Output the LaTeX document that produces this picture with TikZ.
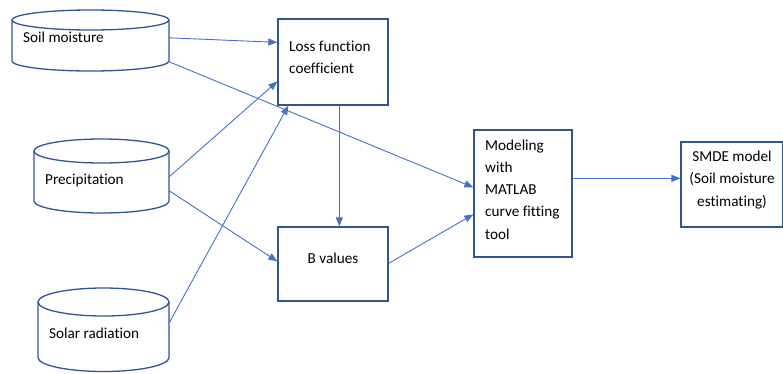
\documentclass[tikz,border=0pt]{standalone}
\usepackage{fontspec}
\setmainfont[Ligatures=NoCommon]{Carlito}
\usetikzlibrary{arrows.meta,calc}
\definecolor{linec}{HTML}{4472C4}
\definecolor{boxc}{HTML}{2F5597}
\tikzset{
  box/.style={draw=boxc,line width=1.3pt,inner sep=0pt},
  lbl/.style={font=\fontsize{15.2}{22.2}\selectfont,inner sep=0pt,text=black},
  conn/.style={draw=linec,line width=0.9pt,-{Triangle[length=9pt,width=7pt]}},
  cyl/.style={draw=boxc,line width=1.3pt}
}
\newcommand{\mycyl}[5]{% left right top bottom ry
  \draw[cyl] ({(#1+#2)/2},{#3+#5}) ellipse [x radius={(#2-#1)/2*1pt}, y radius={#5*1pt}];
  \draw[cyl] (#1,{#3+#5}) -- (#1,{#4-#5}) arc [start angle=180, end angle=360, x radius={(#2-#1)/2*1pt}, y radius={#5*1pt}] -- (#2,{#3+#5});
}
\begin{document}
\begin{tikzpicture}[x=1pt,y=-1pt]
\useasboundingbox (0,0) rectangle (783,373);
% cylinders
\mycyl{12}{169}{10}{71}{10}
\mycyl{34}{169}{139}{213}{12}
\mycyl{38}{169}{288}{371.5}{14}
\node[minimum width=157pt,minimum height=61pt,inner sep=0pt] (soil) at (90.5,40.5) {};
\node[minimum width=135pt,minimum height=74pt,inner sep=0pt] (prec) at (101.5,176) {};
\node[minimum width=131pt,minimum height=84pt,inner sep=0pt] (solar) at (103.5,330) {};
\node[lbl,anchor=west] (tsoil) at (23,37) {Soil moisture};
\node[lbl,anchor=west] (tprec) at (45,180) {Precipitation};
\node[lbl,anchor=west] (tsolar) at (49,333) {Solar radiation};
% boxes
\node[box,minimum width=110pt,minimum height=86pt] (loss) at (333,62) {};
\node[box,minimum width=110pt,minimum height=74pt] (bval) at (333,264) {};
\node[box,minimum width=98pt,minimum height=127pt] (model) at (523,193.5) {};
\node[box,minimum width=102pt,minimum height=85pt] (smde) at (732,184.5) {};
\node[lbl,anchor=west,align=left] (tloss) at (289,57) {Loss function\\coefficient};
\node[lbl] (tbval) at (333,258) {B values};
\node[lbl,anchor=west,align=left] (tmodel) at (485,189.5) {Modeling\\with\\MATLAB\\curve fitting\\tool};
\node[lbl,align=center] (tsmde) at (732,180) {SMDE model\\(Soil moisture\\estimating)};
% connectors
\draw[conn] ($(soil.north east)+(0,28)$) -- ($(loss.north west)+(0,24)$);
\draw[conn] ($(soil.north east)+(0,52)$) -- ($(model.north west)+(0,58)$);
\draw[conn] ($(prec.north east)+(0,38)$) -- ($(loss.north west)+(0,63)$);
\draw[conn] ($(prec.north east)+(0,52)$) -- ($(bval.north west)+(0,35)$);
\draw[conn] ($(solar.north east)+(0,35)$) -- ($(loss.south west)+(11,0)$);
\draw[conn] ($(loss.south west)+(62,0)$) -- ($(bval.north west)+(62,0)$);
\draw[conn] ($(bval.north east)+(0,37)$) -- ($(model.north west)+(0,85)$);
\draw[conn] ($(model.north east)+(0,49)$) -- ($(smde.north west)+(0,37)$);
\end{tikzpicture}
\end{document}
